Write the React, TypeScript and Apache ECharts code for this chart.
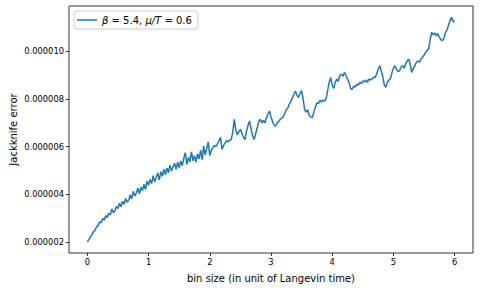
import React, { useEffect, useRef } from "react";
import * as echarts from "echarts";

// bin size step (Langevin time units) between successive samples
const binStep = 0.025;
// Jackknife error in units of 1e-6, one value per bin size step (0 .. 6)
const errMicro = [
  2.00, 2.09, 2.21, 2.29, 2.43, 2.48, 2.63, 2.68, 2.84, 2.80,
  2.98, 2.92, 3.10, 3.02, 3.20, 3.12, 3.38, 3.22, 3.30, 3.48,
  3.40, 3.62, 3.48, 3.70, 3.58, 3.82, 3.66, 3.75, 3.98, 3.80,
  4.12, 3.92, 4.05, 4.25, 4.02, 4.30, 4.15, 4.42, 4.20, 4.55,
  4.38, 4.62, 4.45, 4.78, 4.52, 4.70, 4.90, 4.60, 4.95, 4.75,
  5.05, 4.82, 5.10, 4.90, 5.22, 4.98, 5.15, 5.30, 5.05, 5.35,
  5.12, 5.40, 5.20, 5.50, 5.75, 5.25, 5.55, 5.35, 5.78, 5.40,
  5.62, 5.35, 5.70, 5.48, 5.85, 5.45, 6.02, 5.65, 5.92, 6.20,
  5.62, 5.85, 5.95, 6.05, 6.00, 6.12, 6.25, 6.38, 5.88, 6.05,
  6.15, 6.25, 6.20, 6.28, 6.30, 6.60, 7.15, 6.70, 6.50, 6.62,
  6.73, 6.55, 6.40, 6.30, 6.65, 6.90, 7.08, 6.75, 6.45, 6.30,
  6.55, 6.80, 7.05, 7.15, 7.00, 7.10, 7.00, 7.20, 7.35, 7.50,
  7.25, 7.05, 6.90, 6.86, 7.00, 7.05, 7.15, 7.20, 7.25, 7.40,
  7.55, 7.62, 7.80, 7.90, 8.05, 8.20, 8.34, 8.15, 8.06, 8.25,
  8.35, 8.00, 7.55, 7.45, 7.55, 7.30, 7.25, 7.22, 7.45, 7.65,
  7.85, 7.80, 7.95, 7.88, 7.95, 7.92, 8.00, 8.35, 8.70, 8.90,
  8.60, 8.45, 8.70, 8.84, 8.75, 9.00, 9.05, 8.95, 9.12, 9.00,
  8.84, 8.70, 8.45, 8.40, 8.55, 8.50, 8.62, 8.58, 8.70, 8.65,
  8.76, 8.72, 8.80, 8.70, 8.84, 8.80, 8.85, 8.92, 8.90, 9.05,
  9.25, 9.40, 9.20, 8.95, 8.60, 8.49, 8.70, 8.80, 8.84, 9.10,
  9.30, 9.40, 9.25, 9.15, 9.19, 9.35, 9.40, 9.30, 9.47, 9.60,
  9.68, 9.45, 9.12, 9.30, 9.40, 9.55, 9.60, 9.55, 9.68, 9.75,
  9.85, 9.95, 10.05, 10.10, 10.50, 10.80, 10.70, 10.78, 10.65, 10.75,
  10.60, 10.50, 10.45, 10.55, 10.80, 10.90, 11.10, 11.30, 11.44, 11.25,
  11.30,
];
const xTicks = [0, 1, 2, 3, 4, 5, 6];
const yTicks = [0.000002, 0.000004, 0.000006, 0.000008, 0.00001];
const seriesName = "beta54";
const xName = "bin size (in unit of Langevin time)";
const yName = "Jackknife error";

export default function App() {
  const ref = useRef<HTMLDivElement>(null);
  useEffect(() => {
    if (!ref.current) return;
    const chart = echarts.init(ref.current, undefined, { renderer: "svg" });
    const data = errMicro.map((v, i) => [i * binStep, v * 1e-6]);
    const ys = data.map((d) => d[1]);
    const xs = data.map((d) => d[0]);
    const yMin = Math.min(...ys), yMax = Math.max(...ys);
    const xMin = Math.min(...xs), xMax = Math.max(...xs);
    const ym = (yMax - yMin) * 0.05, xm = (xMax - xMin) * 0.05;
    const font = "DejaVu Sans";
    chart.setOption({
      animation: false,
      backgroundColor: "#ffffff",
      grid: {
        left: 69, right: 7, top: 6, bottom: 35,
        containLabel: false,
        outerBoundsMode: "none",
        show: true, borderColor: "#000", borderWidth: 0.8,
      },
      legend: {
        show: true,
        data: [seriesName],
        left: 74, top: 11,
        orient: "vertical",
        padding: [4, 6, 4, 3],
        itemGap: 0,
        itemWidth: 20, itemHeight: 1.5,
        icon: "rect",
        borderColor: "#cccccc", borderWidth: 1, borderRadius: 3,
        backgroundColor: "rgba(255,255,255,0.8)",
        formatter: () => "{i|β} = 5.4, {i|μ/T} = 0.6",
        textStyle: {
          fontFamily: font, fontSize: 10, color: "#000",
          rich: {
            i: { fontStyle: "italic", fontFamily: font, fontSize: 10, color: "#000" },
          },
        },
      },
      xAxis: {
        type: "value",
        min: xMin - xm, max: xMax + xm,
        name: xName, nameLocation: "middle", nameGap: 20,
        nameMoveOverlap: false,
        nameTextStyle: { fontFamily: font, fontSize: 10, color: "#000" },
        axisLine: { show: false, onZero: false },
        splitLine: { show: false },
        axisTick: { show: true, customValues: xTicks, length: 3, lineStyle: { color: "#000", width: 0.8 } },
        axisLabel: {
          customValues: xTicks, fontFamily: font, fontSize: 8.33, color: "#000", margin: 5,
          formatter: (v: number) => String(Math.round(v)),
        },
      },
      yAxis: {
        type: "value",
        min: yMin - ym, max: yMax + ym,
        name: yName, nameLocation: "middle", nameGap: 51, nameRotate: 90,
        nameMoveOverlap: false,
        nameTextStyle: { fontFamily: font, fontSize: 10, color: "#000" },
        axisLine: { show: false, onZero: false },
        splitLine: { show: false },
        axisTick: { show: true, customValues: yTicks, length: 3, lineStyle: { color: "#000", width: 0.8 } },
        axisLabel: {
          customValues: yTicks, fontFamily: font, fontSize: 8.33, color: "#000", margin: 5,
          formatter: (v: number) => v.toFixed(6),
        },
      },
      series: [
        {
          name: seriesName,
          type: "line",
          data,
          symbol: "none",
          lineStyle: { color: "#1f77b4", width: 1.5 },
          itemStyle: { color: "#1f77b4" },
        },
      ],
    });
    return () => chart.dispose();
  }, []);
  return (
    <div
      ref={ref}
      style={{ position: "fixed", left: 0, top: 0, width: 480, height: 288 }}
    />
  );
}
